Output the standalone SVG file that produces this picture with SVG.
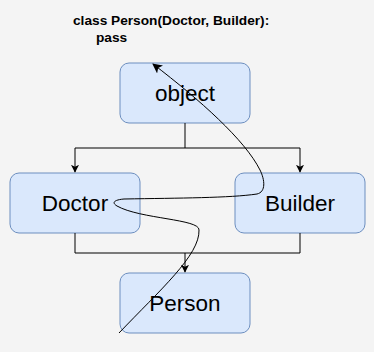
<svg xmlns="http://www.w3.org/2000/svg" width="374" height="352" viewBox="0 0 374 352">
<defs>
<style>
.box{fill:#dae8fc;stroke:#6c8ebf;stroke-width:1}
.lbl{font-family:"Liberation Sans",Arial,sans-serif;font-size:22.5px;fill:#000;text-anchor:middle}
.title{font-family:"Liberation Sans",Arial,sans-serif;font-size:13.7px;font-weight:bold;fill:#000}
.edge{fill:none;stroke:#000;stroke-width:1}
</style>
<marker id="arr" viewBox="0 0 10 10" refX="9" refY="5" markerWidth="8" markerHeight="8" orient="auto" markerUnits="userSpaceOnUse">
<path d="M0,0 L10,5 L0,10 L2.5,5 Z" fill="#000"/>
</marker>
<marker id="arr2" viewBox="0 0 10 10" refX="9" refY="5" markerWidth="10" markerHeight="10" orient="auto" markerUnits="userSpaceOnUse">
<path d="M0,0 L10,5 L0,10 L2.5,5 Z" fill="#000"/>
</marker>
</defs>
<rect width="374" height="352" fill="#f4f4f4"/>
<g id="title">
<text class="title" x="73" y="25">class Person(Doctor, Builder):</text>
<text class="title" x="96" y="42">pass</text>
</g>
<g id="object">
<rect class="box" x="120" y="63" width="130" height="60" rx="9"/>
<text class="lbl" x="185" y="101">object</text>
</g>
<g id="doctor">
<rect class="box" x="10" y="173" width="130" height="60" rx="9"/>
<text class="lbl" x="75" y="211">Doctor</text>
</g>
<g id="builder">
<rect class="box" x="235" y="173" width="130" height="60" rx="9"/>
<text class="lbl" x="300" y="211">Builder</text>
</g>
<g id="person">
<rect class="box" x="120" y="273" width="130" height="60" rx="9"/>
<text class="lbl" x="185" y="311">Person</text>
</g>
<g id="connectors">
<path class="edge" d="M185,123 V148 M75,148 H300"/>
<path class="edge" d="M75,148 V172" marker-end="url(#arr)"/>
<path class="edge" d="M300,148 V172" marker-end="url(#arr)"/>
<path class="edge" d="M75,233 V253 H300 V233"/>
<path class="edge" d="M185,253 V272" marker-end="url(#arr)"/>
<path class="edge" d="M119,333 C160,290 200,255 199,230 C200,219 140,219 117,206 C112,203 113,200 124,199 C180,198 230,198 257,194 C266,192 265,180 260,170 C245,140 200,100 153,64" marker-end="url(#arr2)"/>
</g>
</svg>
